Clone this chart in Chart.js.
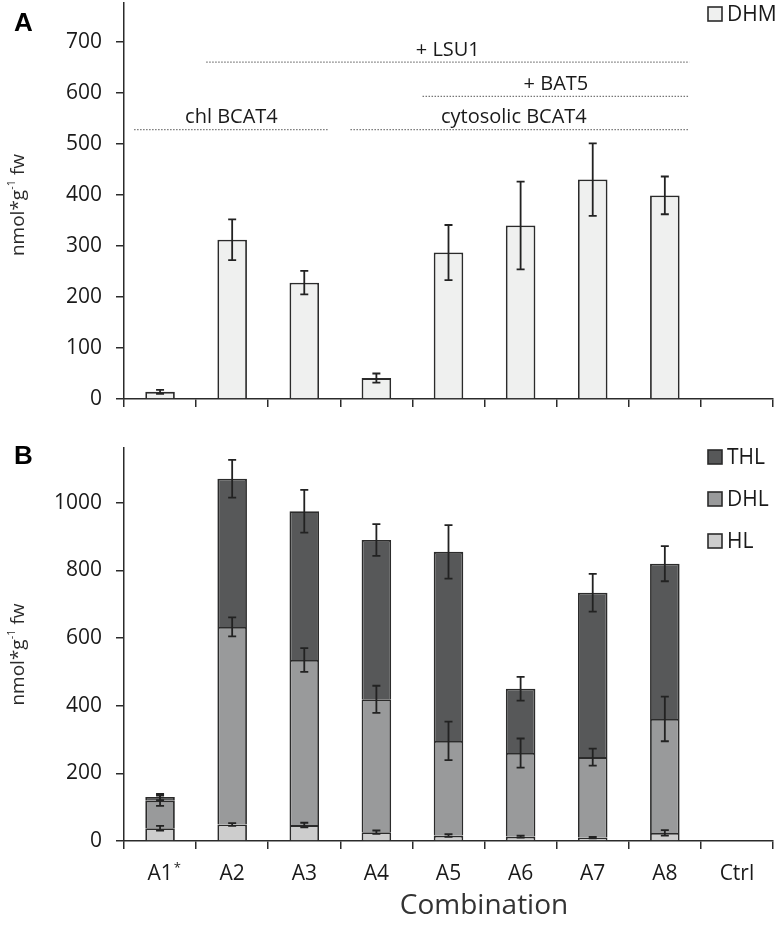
<!DOCTYPE html>
<html>
<head>
<meta charset="utf-8">
<script src="https://cdn.jsdelivr.net/npm/chart.js@4"></script>
<style>
  body { margin: 0; background: #fff; }
  #wrap { position: relative; width: 784px; height: 928px; overflow: hidden; }
  canvas { position: absolute; left: 0; }
  #chartA { top: -30px; }
  #chartB { top: 420px; }
</style>
</head>
<body>
<div id="wrap">
  <canvas id="chartB" width="784" height="508"></canvas>
  <canvas id="chartA" width="784" height="460"></canvas>
</div>
<script>
const categories = ['A1*', 'A2', 'A3', 'A4', 'A5', 'A6', 'A7', 'A8', 'Ctrl'];

// panel A
const dhm = [14, 312, 228, 41, 287, 340, 430, 399, 0];
const dhmErr = [4, 40, 23, 9, 54, 86, 71, 37, 0];
const ticksA = [0, 100, 200, 300, 400, 500, 600, 700];

// panel B (stacked)
const hl = [38, 49, 47, 26, 16, 13, 10, 24, 0];
const hlErr = [7, 4, 7, 5, 4, 3, 2, 8, 0];
const dhl = [81, 584, 488, 393, 280, 247, 238, 337, 0];
const dhlErr = [15, 28, 35, 40, 57, 43, 25, 66, 0];
const thl = [11, 438, 440, 471, 559, 190, 486, 459, 0];
const thlErr = [9, 56, 63, 47, 79, 35, 56, 52, 0];
const ticksB = [0, 200, 400, 600, 800, 1000];

// annotation lines in panel A: label, first / last category, level
const noteLabels = ['+ LSU1', '+ BAT5', 'cytosolic BCAT4', 'chl BCAT4'];
const noteFrom = [1, 4, 3, 0];
const noteTo = [7, 7, 7, 2];
const noteLevel = [660, 593, 528, 528];

const font = "'Open Sans', sans-serif";
const ink = '#2b2b2b';
const offA = 30; // canvas A sits 30px above the page top

const errorBars = {
  id: 'errorBars',
  afterDatasetsDraw(chart) {
    const ctx = chart.ctx;
    const y = chart.scales.y;
    ctx.save();
    ctx.strokeStyle = '#222';
    ctx.lineWidth = 1.8;
    chart.data.datasets.forEach((ds, i) => {
      const meta = chart.getDatasetMeta(i);
      meta.data.forEach((bar, j) => {
        const e = ds.err[j];
        if (!e) return;
        const val = y.getValueForPixel(bar.y);
        const y1 = y.getPixelForValue(val + e);
        const y2 = y.getPixelForValue(val - e);
        ctx.beginPath();
        ctx.moveTo(bar.x, y1); ctx.lineTo(bar.x, y2);
        ctx.moveTo(bar.x - 4, y1); ctx.lineTo(bar.x + 4, y1);
        ctx.moveTo(bar.x - 4, y2); ctx.lineTo(bar.x + 4, y2);
        ctx.stroke();
      });
    });
    ctx.restore();
  }
};

function drawYTitle(chart, dy) {
  const ctx = chart.ctx;
  const a = chart.chartArea;
  ctx.save();
  ctx.translate(19, (a.top + a.bottom) / 2 + dy);
  ctx.rotate(-Math.PI / 2);
  ctx.fillStyle = ink;
  ctx.textBaseline = 'middle';
  const big = '19px ' + font, small = '11px ' + font;
  ctx.font = big;
  const w1 = ctx.measureText('nmol*g').width;
  const w3 = ctx.measureText(' fw').width;
  ctx.font = small;
  const w2 = ctx.measureText('-1').width;
  let x = -(w1 + w2 + w3) / 2;
  ctx.font = big; ctx.fillText('nmol*g', x, 0); x += w1;
  ctx.font = small; ctx.fillText('-1', x, -7); x += w2;
  ctx.font = big; ctx.fillText(' fw', x, 0);
  ctx.restore();
}

function drawLegend(chart, x, ys) {
  const ctx = chart.ctx;
  ctx.save();
  chart.data.datasets.slice().reverse().forEach((ds, k) => {
    const yy = ys[k];
    ctx.fillStyle = ds.backgroundColor;
    ctx.strokeStyle = ink;
    ctx.lineWidth = 1.6;
    ctx.fillRect(x, yy - 7, 14, 14);
    ctx.strokeRect(x, yy - 7, 14, 14);
    ctx.fillStyle = '#1a1a1a';
    ctx.font = '21px ' + font;
    ctx.textBaseline = 'middle';
    ctx.fillText(ds.label, x + 19, yy + 1);
  });
  ctx.restore();
}

function panelLetter(chart, txt, y) {
  const ctx = chart.ctx;
  ctx.save();
  ctx.fillStyle = '#000';
  ctx.font = "bold 26px 'Liberation Sans', Arial, sans-serif";
  ctx.textBaseline = 'middle';
  ctx.fillText(txt, 14, y);
  ctx.restore();
}

const decorA = {
  id: 'decorA',
  afterDraw(chart) {
    const ctx = chart.ctx;
    const x = chart.scales.x, y = chart.scales.y;
    const step = x.getPixelForValue(1) - x.getPixelForValue(0);
    ctx.save();
    noteLabels.forEach((lab, i) => {
      const x1 = x.getPixelForValue(noteFrom[i]) - step * 0.36;
      const x2 = x.getPixelForValue(noteTo[i]) + step * 0.34;
      const yy = y.getPixelForValue(noteLevel[i]);
      ctx.strokeStyle = '#777';
      ctx.lineWidth = 1.3;
      ctx.setLineDash([1.5, 1.5]);
      ctx.beginPath(); ctx.moveTo(x1, yy); ctx.lineTo(x2, yy); ctx.stroke();
      ctx.setLineDash([]);
      ctx.fillStyle = '#1a1a1a';
      ctx.font = '20px ' + font;
      ctx.textAlign = 'center';
      ctx.textBaseline = 'bottom';
      let cx = (x1 + x2) / 2;
      if (lab === 'cytosolic BCAT4') cx -= 6;
      ctx.fillText(lab, cx, yy - 2);
    });
    ctx.restore();
    drawYTitle(chart, 4);
    drawLegend(chart, 708, [14 + offA]);
    panelLetter(chart, 'A', 24 + offA);
  }
};

const decorB = {
  id: 'decorB',
  afterDraw(chart) {
    drawYTitle(chart, 10);
    drawLegend(chart, 708, [37, 79, 121]);
    panelLetter(chart, 'B', 37);
    const ctx = chart.ctx;
    const x = chart.scales.x;
    ctx.save();
    // superscript marker on the first category label
    ctx.fillStyle = '#1a1a1a';
    ctx.textBaseline = 'middle';
    ctx.font = '21px ' + font;
    const w = ctx.measureText('A1').width;
    ctx.font = '13px ' + font;
    ctx.fillText('*', x.getPixelForValue(0) + w / 2 + 1, 448);
    ctx.fillStyle = '#333';
    ctx.font = '28px ' + font;
    ctx.textAlign = 'center';
    ctx.fillText('Combination', 484, 486);
    ctx.restore();
  }
};

function yScale(max, list) {
  return {
    min: 0, max: max,
    ticks: { autoSkip: false, color: '#1a1a1a', font: { family: font, size: 21 }, padding: 14,
      callback: v => String(v) },
    afterBuildTicks: s => { s.ticks = list.map(v => ({ value: v })); },
    afterFit: s => { s.width = 124; },
    grid: { drawOnChartArea: false, drawTicks: true, tickLength: 8, color: ink, lineWidth: 1.5 },
    border: { color: ink, width: 1.5 }
  };
}

function xScale(showLabels, height) {
  return {
    stacked: true,
    ticks: {
      display: showLabels, color: '#1a1a1a', font: { family: font, size: 21 }, padding: 12,
      callback: function (v) { return this.getLabelForValue(v).replace('*', ''); }
    },
    afterFit: s => { s.height = height; },
    grid: { offset: true, drawOnChartArea: false, drawTicks: true, tickLength: 8, color: ink, lineWidth: 1.5 },
    border: { color: ink, width: 1.5 }
  };
}

const barStyle = { borderColor: ink, borderWidth: 1.8, barPercentage: 0.41, categoryPercentage: 1 };

new Chart(document.getElementById('chartA'), {
  type: 'bar',
  data: {
    labels: categories,
    datasets: [Object.assign({ label: 'DHM', data: dhm, err: dhmErr, backgroundColor: '#eff0ef' }, barStyle)]
  },
  options: {
    responsive: false,
    animation: false,
    layout: { padding: { top: 3 + offA, right: 11, bottom: 0, left: 0 } },
    plugins: { legend: { display: false }, tooltip: { enabled: false } },
    scales: { x: xScale(false, 31), y: yScale(776, ticksA) }
  },
  plugins: [errorBars, decorA]
});

new Chart(document.getElementById('chartB'), {
  type: 'bar',
  data: {
    labels: categories,
    datasets: [
      Object.assign({ label: 'HL', data: hl, err: hlErr, backgroundColor: '#cdcdcd' }, barStyle),
      Object.assign({ label: 'DHL', data: dhl, err: dhlErr, backgroundColor: '#999a9b' }, barStyle),
      Object.assign({ label: 'THL', data: thl, err: thlErr, backgroundColor: '#575859' }, barStyle)
    ]
  },
  options: {
    responsive: false,
    animation: false,
    layout: { padding: { top: 28, right: 11, bottom: 0, left: 0 } },
    plugins: { legend: { display: false }, tooltip: { enabled: false } },
    scales: {
      x: xScale(true, 87),
      y: Object.assign(yScale(1162, ticksB), { stacked: true })
    }
  },
  plugins: [errorBars, decorB]
});
</script>
</body>
</html>
